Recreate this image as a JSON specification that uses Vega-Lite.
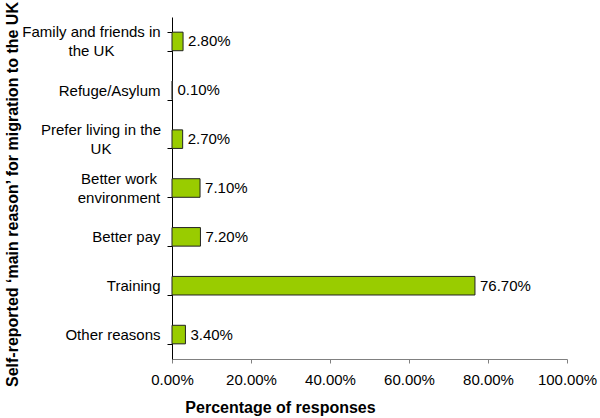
{
  "$schema": "https://vega.github.io/schema/vega-lite/v6.json",
  "autosize": "none",
  "width": 395,
  "height": 342,
  "padding": {"left": 172, "top": 17, "right": 33, "bottom": 59},
  "background": "white",
  "config": {
    "view": {"stroke": null},
    "font": "Liberation Sans",
    "axis": {"grid": false, "domain": true}
  },
  "data": {
    "values": [
      {"reason": "Family and friends in the UK", "pct": 0.028},
      {"reason": "Refuge/Asylum", "pct": 0.001},
      {"reason": "Prefer living in the UK", "pct": 0.027},
      {"reason": "Better work environment", "pct": 0.071},
      {"reason": "Better pay", "pct": 0.072},
      {"reason": "Training", "pct": 0.767},
      {"reason": "Other reasons", "pct": 0.034}
    ]
  },
  "encoding": {
    "y": {
      "field": "reason",
      "type": "nominal",
      "sort": null,
      "scale": {"paddingInner": 0.62, "paddingOuter": 0.31},
      "axis": {
        "title": "Self-reported ‘main reason’ for migration to the UK",
        "titleFont": "Liberation Sans",
        "titleFontSize": 16,
        "titleFontWeight": "bold",
        "titleColor": "black",
        "titleAngle": -90,
        "titleX": -160,
        "titleY": 177,
        "titleAlign": "center",
        "titleBaseline": "middle",
        "tickBand": "extent",
        "tickSize": 5,
        "tickColor": "black",
        "domainColor": "black",
        "labelFontSize": 15,
        "labelColor": "black",
        "labelAlign": {
          "condition": {"test": "datum.value == 'Family and friends in the UK' || datum.value == 'Prefer living in the UK' || datum.value == 'Better work environment'", "value": "center"},
          "value": "right"
        },
        "labelOffset": {
          "condition": {"test": "datum.value == 'Family and friends in the UK' || datum.value == 'Prefer living in the UK' || datum.value == 'Better work environment'", "value": -9.5},
          "value": 0
        },
        "labelPadding": {
          "condition": [
            {"test": "datum.value == 'Family and friends in the UK'", "value": 76},
            {"test": "datum.value == 'Prefer living in the UK'", "value": 66.5},
            {"test": "datum.value == 'Better work environment'", "value": 48.5}
          ],
          "value": 7
        },
        "labelLineHeight": 19,
        "labelLimit": 200,
        "labelOverlap": false,
        "labelExpr": "datum.value == 'Family and friends in the UK' ? ['Family and friends in', 'the UK'] : datum.value == 'Prefer living in the UK' ? ['Prefer living in the', 'UK'] : datum.value == 'Better work environment' ? ['Better work', 'environment'] : datum.value"
      }
    },
    "x": {
      "field": "pct",
      "type": "quantitative",
      "scale": {"domain": [0, 1], "nice": false},
      "axis": {
        "title": "Percentage of responses",
        "titleFont": "Liberation Sans",
        "titleFontSize": 16,
        "titleFontWeight": "bold",
        "titleColor": "black",
        "titleX": 108,
        "titleY": 48,
        "titleAlign": "center",
        "titleBaseline": "middle",
        "values": [0, 0.2, 0.4, 0.6, 0.8, 1],
        "format": ".2%",
        "tickSize": 4,
        "tickColor": "#808080",
        "domainColor": "#808080",
        "labelFontSize": 15,
        "labelColor": "black",
        "labelPadding": 9,
        "labelOverlap": false,
        "labelFlush": false
      }
    }
  },
  "layer": [
    {
      "mark": {"type": "bar", "color": "#99CC00", "stroke": "#222222", "strokeWidth": 1}
    },
    {
      "mark": {"type": "text", "align": "left", "baseline": "middle", "dx": 5, "fontSize": 15, "color": "black"},
      "encoding": {"text": {"field": "pct", "type": "quantitative", "format": ".2%"}}
    }
  ]
}
